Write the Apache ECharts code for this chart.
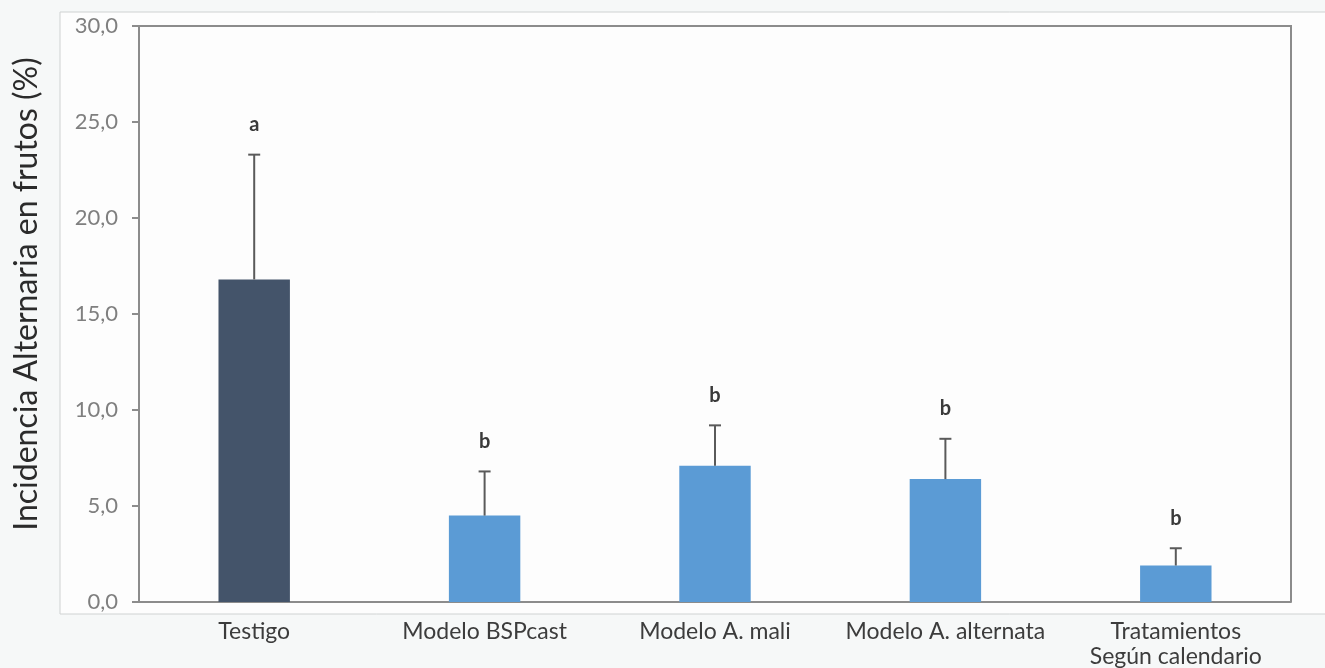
<!DOCTYPE html>
<html>
<head>
<meta charset="utf-8">
<title>Incidencia Alternaria en frutos</title>
<script src="https://cdn.jsdelivr.net/npm/echarts@6/dist/echarts.min.js"></script>
<style>
  html, body { margin: 0; padding: 0; background: #f6f8f8; }
  #chart { width: 1325px; height: 668px; }
</style>
</head>
<body>
<div id="chart"></div>
<script>
// Treatments on the x axis
const categories = ['Testigo', 'Modelo BSPcast', 'Modelo A. mali', 'Modelo A. alternata', 'Tratamientos\nSegún calendario'];
// Mean fruit incidence (%) per treatment
const incidence = [16.8, 4.5, 7.1, 6.4, 1.9];
// Upper end of the error bar (%)
const errorTop = [23.3, 6.8, 9.2, 8.5, 2.8];
// Significance letters
const letters = ['a', 'b', 'b', 'b', 'b'];
// Y axis ticks
const yTicks = [0, 5, 10, 15, 20, 25, 30];

const barColors = ['#44546a', '#5b9bd5', '#5b9bd5', '#5b9bd5', '#5b9bd5'];
const FONT = 'Lato, "Open Sans", sans-serif';

const chart = echarts.init(document.getElementById('chart'), null, { renderer: 'canvas' });

chart.setOption({
  backgroundColor: '#f6f8f8',
  animation: false,
  grid: { left: 139, right: 34, top: 26, bottom: 66, outerBoundsMode: 'none', containLabel: false },
  xAxis: {
    type: 'category',
    data: categories,
    axisLine: { show: true, lineStyle: { color: '#8c8c8c', width: 2 } },
    axisTick: { show: false },
    axisLabel: {
      color: '#3c3c3c', fontSize: 23, fontFamily: FONT, margin: 17, lineHeight: 25,
      interval: 0
    }
  },
  yAxis: {
    type: 'value',
    min: yTicks[0],
    max: yTicks[yTicks.length - 1],
    interval: yTicks[1] - yTicks[0],
    name: 'Incidencia Alternaria en frutos (%)',
    nameLocation: 'middle',
    nameGap: 96,
    nameTextStyle: { color: '#2b2b2b', fontSize: 32, fontFamily: FONT, padding: [0, 0, 0, 40] },
    axisLine: { show: true, lineStyle: { color: '#8c8c8c', width: 2 } },
    axisTick: { show: true, length: 7, lineStyle: { color: '#8c8c8c', width: 2 } },
    splitLine: { show: false },
    axisLabel: {
      color: '#7f7f7f', fontSize: 22, fontFamily: FONT, margin: 21,
      formatter: v => v.toFixed(1).replace('.', ',')
    }
  },
  series: [
    {
      type: 'bar',
      data: incidence.map((v, i) => ({ value: v, itemStyle: { color: barColors[i] } })),
      barWidth: '31%',
      z: 2
    },
    {
      // error bars with the significance letter above
      type: 'custom',
      z: 3,
      data: incidence.map((v, i) => [i, v, errorTop[i]]),
      renderItem: (params, api) => {
        const base = api.coord([api.value(0), api.value(1)]);
        const top = api.coord([api.value(0), api.value(2)]);
        const half = 6;
        const stroke = { stroke: '#5a5a5a', lineWidth: 2 };
        return {
          type: 'group',
          children: [
            { type: 'line', shape: { x1: base[0], y1: base[1], x2: top[0], y2: top[1] }, style: stroke },
            { type: 'line', shape: { x1: top[0] - half, y1: top[1], x2: top[0] + half, y2: top[1] }, style: stroke },
            {
              type: 'text',
              style: {
                x: top[0], y: top[1] - 30,
                text: letters[params.dataIndex],
                fill: '#3a3a3a', font: 'bold 20px ' + FONT,
                align: 'center', verticalAlign: 'middle'
              }
            }
          ]
        };
      }
    }
  ]
});

// Panel behind the plot, plus the top and right frame of the plot area
const g = chart.getModel().getComponent('grid').coordinateSystem.getRect();
chart.setOption({
  graphic: [{
    type: 'rect',
    z: -10,
    shape: { x: 60, y: 12, width: 1300, height: 602 },
    style: { fill: '#fdfdfd', stroke: '#cfd2d2', lineWidth: 1 }
  }, {
    type: 'polyline',
    z: 5,
    shape: { points: [[g.x, g.y], [g.x + g.width, g.y], [g.x + g.width, g.y + g.height]] },
    style: { stroke: '#8c8c8c', lineWidth: 2, fill: null }
  }]
});
</script>
</body>
</html>
